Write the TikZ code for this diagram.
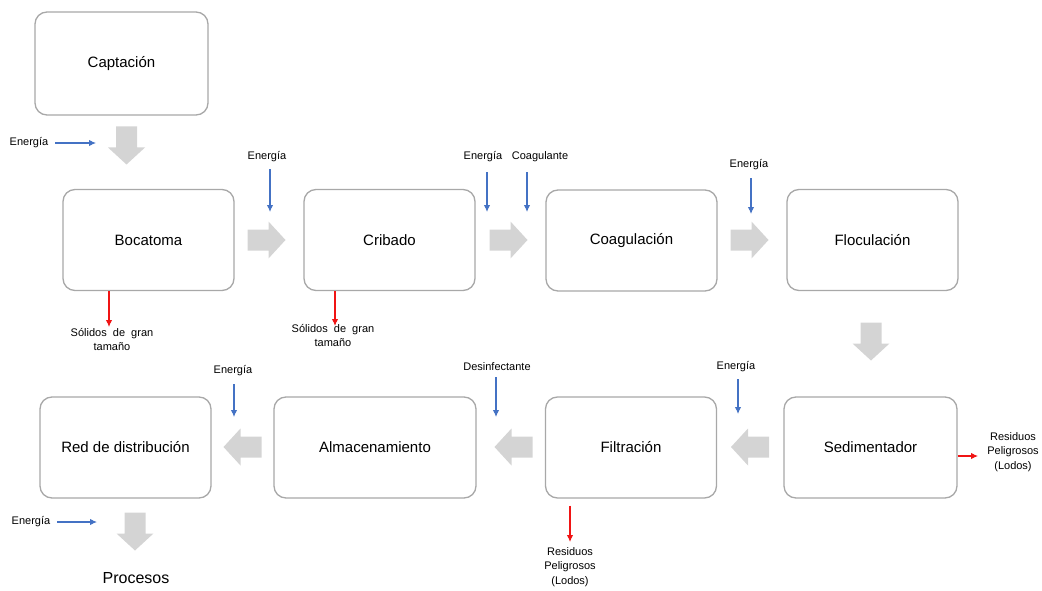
\documentclass[tikz,border=0pt]{standalone}
\usepackage{fontspec}
\setmainfont{Liberation Sans}
\usetikzlibrary{arrows.meta}
\definecolor{boxgray}{RGB}{168,168,168}
\definecolor{arrgray}{RGB}{212,212,212}
\definecolor{eblue}{RGB}{68,114,196}
\definecolor{ered}{RGB}{240,20,20}
\newcommand\blkarrow[3]{\fill[arrgray, shift={(#1,#2)}, rotate=#3] (-19,-10.5) -- (2,-10.5) -- (2,-18.5) -- (19,0) -- (2,18.5) -- (2,10.5) -- (-19,10.5) -- cycle;}
\begin{document}
\begin{tikzpicture}[x=1pt,y=-1pt,
  stage/.style={draw=boxgray, line width=1.3pt, rounded corners=12pt, minimum width=171pt, minimum height=101pt, font=\fontsize{15}{18}\selectfont, inner sep=0pt},
  lbl/.style={font=\fontsize{11}{14.5}\selectfont, inner sep=1pt, align=center},
  inarrow/.style={draw=eblue, line width=1.1pt, -{Latex[length=7pt,width=6.5pt]}},
  outarrow/.style={draw=ered, line width=1.1pt, -{Latex[length=7pt,width=6.5pt]}}]
\useasboundingbox (0,0) rectangle (1042,591);

% stages
\node[stage, minimum width=173pt, minimum height=103pt] (captacion) at (121.5,63.5) {Captación};
\node[stage] (bocatoma) at (148.5,240) {Bocatoma};
\node[stage] (cribado) at (389.5,240) {Cribado};
\node[stage] (coagulacion) at (631.5,240.5) {Coagulación};
\node[stage] (floculacion) at (872.5,240) {Floculación};
\node[stage, minimum width=173pt] (sedimentador) at (870.5,447.5) {Sedimentador};
\node[stage] (filtracion) at (631,447.5) {Filtración};
\node[stage, minimum width=202pt] (almacenamiento) at (375,447.5) {Almacenamiento};
\node[stage] (red) at (125.5,447.5) {Red de distribución};
\node[font=\fontsize{16}{18}\selectfont, inner sep=0pt] (procesos) at (136,578) {Procesos};

% block arrows
\blkarrow{126.5}{145.5}{-90}
\blkarrow{266.5}{240}{0}
\blkarrow{508.5}{240}{0}
\blkarrow{749.5}{240}{0}
\blkarrow{871}{341.5}{-90}
\blkarrow{750}{447}{180}
\blkarrow{513.5}{447}{180}
\blkarrow{242.5}{447}{180}
\blkarrow{135}{531.5}{-90}

% inputs
\node[lbl] (e1) at (29,143) {Energía};
\coordinate (e1t) at (96,143);
\draw[inarrow] (e1.east) ++(6,0) -- (e1t);

\node[lbl] (e2) at (267,157) {Energía};
\coordinate (e2t) at (270,212);
\draw[inarrow] (e2.south -| e2t) ++(0,6) -- (e2t);

\node[lbl] (e3) at (483,157) {Energía};
\coordinate (e3t) at (487,212);
\draw[inarrow] (e3.south -| e3t) ++(0,9) -- (e3t);

\node[lbl] (coag) at (540,157) {Coagulante};
\coordinate (ct) at (527,212);
\draw[inarrow] (coag.south -| ct) ++(0,9) -- (ct);

\node[lbl] (e4) at (749,165) {Energía};
\coordinate (e4t) at (751,214);
\draw[inarrow] (e4.south -| e4t) ++(0,7) -- (e4t);

\node[lbl] (e5) at (233,371) {Energía};
\coordinate (e5t) at (234,417);
\draw[inarrow] (e5.south -| e5t) ++(0,7) -- (e5t);

\node[lbl] (desinf) at (497,367) {Desinfectante};
\coordinate (dt) at (496,417);
\draw[inarrow] (desinf.south -| dt) ++(0,5) -- (dt);

\node[lbl] (e6) at (736,367) {Energía};
\coordinate (e6t) at (738,414);
\draw[inarrow] (e6.south -| e6t) ++(0,6) -- (e6t);

\node[lbl] (e7) at (31,522) {Energía};
\coordinate (e7t) at (97,522);
\draw[inarrow] (e7.east) ++(6,0) -- (e7t);

% outputs
\coordinate (s1t) at (109,327);
\node[lbl, anchor=north] (sol1) at (112,327) {Sólidos\ \ de\ \ gran\\tamaño};
\draw[outarrow] (bocatoma.south -| s1t) -- (s1t);

\coordinate (s2t) at (335,326);
\node[lbl, anchor=north] (sol2) at (333,323) {Sólidos\ \ de\ \ gran\\tamaño};
\draw[outarrow] (cribado.south -| s2t) -- (s2t);

\coordinate (r1t) at (978,456);
\node[lbl] (res1) at (1013,452) {Residuos\\Peligrosos\\(Lodos)};
\draw[outarrow] (sedimentador.east |- r1t) -- (r1t);

\coordinate (r2t) at (570,542);
\node[lbl, anchor=north] (res2) at (570,546) {Residuos\\Peligrosos\\(Lodos)};
\draw[outarrow] (filtracion.south -| r2t) ++(0,7) -- (r2t);
\end{tikzpicture}
\end{document}
